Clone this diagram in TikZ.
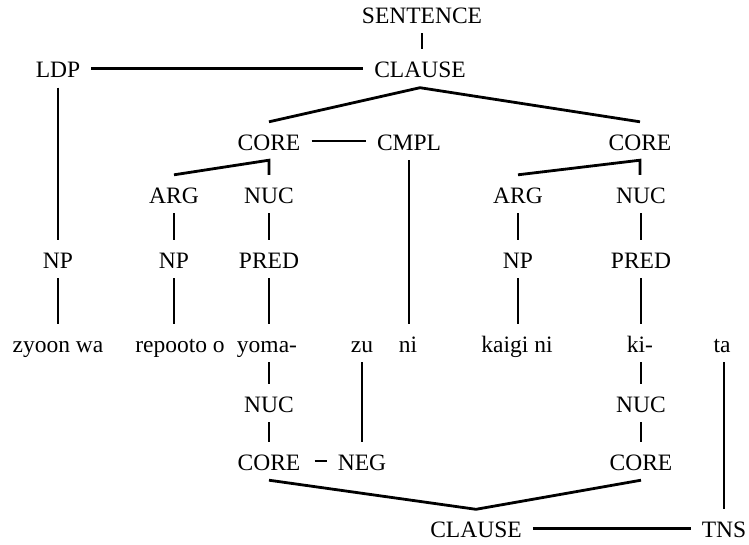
\documentclass[tikz,border=0pt]{standalone}
\usepackage{fontspec}
\setmainfont{Liberation Serif}
\begin{document}
\begin{tikzpicture}[x=1pt, y=-1pt,
  lbl/.style={anchor=base, inner xsep=11pt, inner ysep=10pt,
              text height=18pt, text depth=0pt,
              font=\fontsize{23.5}{26}\selectfont},
  edge/.style={line width=2.8pt}]
\useasboundingbox (0,0) rectangle (749,544);

% upper tree
\node[lbl] (sent)  at (422,23)   {SENTENCE};
\node[lbl] (ldp)   at (58,77.5)  {LDP};
\node[lbl] (cl)    at (420,77.5) {CLAUSE};
\node[lbl] (coreA) at (269,150)  {CORE};
\node[lbl] (cmpl)  at (409,150)  {CMPL};
\node[lbl] (coreB) at (640,150)  {CORE};
\node[lbl] (argA)  at (174,203)  {ARG};
\node[lbl] (nucA)  at (269,203)  {NUC};
\node[lbl] (argB)  at (518,203)  {ARG};
\node[lbl] (nucB)  at (641,203)  {NUC};
\node[lbl] (npL)   at (58,268)   {NP};
\node[lbl] (npA)   at (174,268)  {NP};
\node[lbl] (predA) at (269,268)  {PRED};
\node[lbl] (npB)   at (518,268)  {NP};
\node[lbl] (predB) at (641,268)  {PRED};

% words
\node[lbl] (w1) at (58,352)  {zyoon wa};
\node[lbl] (w2) at (180,352) {repooto o};
\node[lbl] (w3) at (267,352) {yoma-};
\node[lbl] (w4) at (362,352) {zu};
\node[lbl] (w5) at (408,352) {ni};
\node[lbl] (w6) at (517,352) {kaigi ni};
\node[lbl] (w7) at (640,352) {ki-};
\node[lbl] (w8) at (722,352) {ta};

% lower tree
\node[lbl] (nucC)  at (269,412) {NUC};
\node[lbl] (nucD)  at (641,412) {NUC};
\node[lbl] (coreC) at (269,470) {CORE};
\node[lbl] (neg)   at (362,470) {NEG};
\node[lbl] (coreD) at (641,470) {CORE};
\node[lbl] (clB)   at (476,537.5) {CLAUSE};
\node[lbl] (tns)   at (724,537.5) {TNS};

% connectors, upper tree
\draw[edge] (sent.south) -- (sent.south |- cl.north);
\draw[edge] (ldp.east) -- (cl.west);
\draw[edge] (coreA.north) -- (cl.south) -- (coreB.north);
\draw[edge] (coreA.east) -- (cmpl.west);
\draw[edge] (argA.north) -- (coreA.south) -- (coreA.south |- nucA.north);
\draw[edge] (argB.north) -- (coreB.south) -- (coreB.south |- nucB.north);
\draw[edge] (ldp.south) -- (ldp.south |- npL.north);
\draw[edge] (argA.south) -- (argA.south |- npA.north);
\draw[edge] (nucA.south) -- (nucA.south |- predA.north);
\draw[edge] (argB.south) -- (argB.south |- npB.north);
\draw[edge] (nucB.south) -- (nucB.south |- predB.north);
\draw[edge] (npL.south) -- (npL.south |- w1.north);
\draw[edge] (npA.south) -- (npA.south |- w2.north);
\draw[edge] (predA.south) -- (predA.south |- w3.north);
\draw[edge] (cmpl.south) -- (cmpl.south |- w5.north);
\draw[edge] (npB.south) -- (npB.south |- w6.north);
\draw[edge] (predB.south) -- (predB.south |- w7.north);

% connectors, lower tree
\draw[edge] (nucC.north |- w3.south) -- (nucC.north);
\draw[edge] (nucC.south) -- (coreC.north);
\draw[edge] (w4.south) -- (w4.south |- neg.north);
\draw[edge,shorten <=3pt] (coreC.east) -- (neg.west);
\draw[edge] (nucD.north |- w7.south) -- (nucD.north);
\draw[edge] (nucD.south) -- (coreD.north);
\draw[edge] (coreC.south) -- (clB.north) -- (coreD.south);
\draw[edge] (tns.north |- w8.south) -- (tns.north);
\draw[edge] (clB.east) -- (tns.west);
\end{tikzpicture}
\end{document}
